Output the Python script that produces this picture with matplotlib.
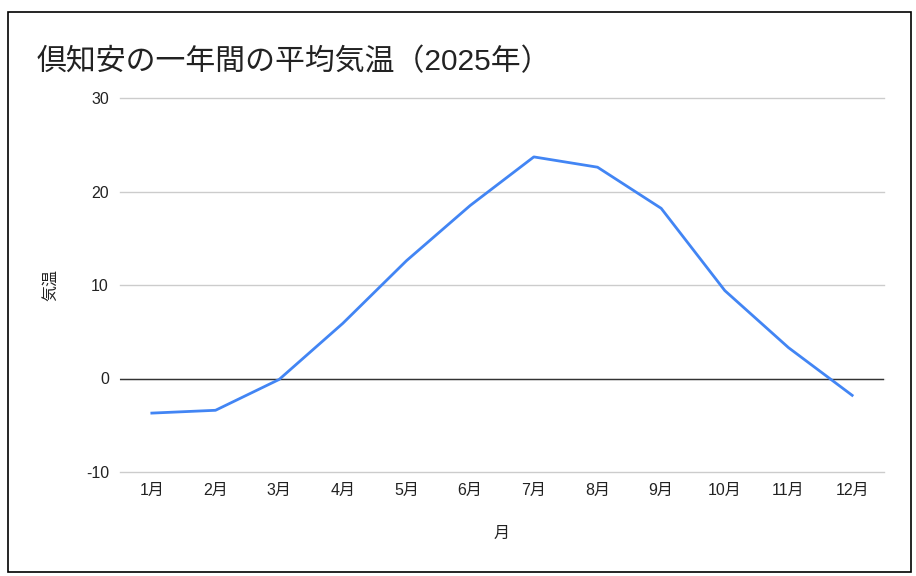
import matplotlib
matplotlib.use("Agg")
import matplotlib.pyplot as plt
from matplotlib.patches import Rectangle

plt.rcParams['font.family'] = ['Liberation Sans', 'Noto Sans CJK JP', 'DejaVu Sans']

# --- dados ---
months = ['1月', '2月', '3月', '4月', '5月', '6月', '7月', '8月', '9月', '10月', '11月', '12月']
temps = [-3.7, -3.4, -0.1, 5.9, 12.6, 18.5, 23.7, 22.6, 18.2, 9.4, 3.3, -1.8]
yticks = [-10, 0, 10, 20, 30]

fig = plt.figure(figsize=(9.16, 5.76), dpi=100)
ax = fig.add_axes([120 / 916, 1 - 472 / 576, 764 / 916, 374 / 576])

x = list(range(len(months)))
ax.plot(x, temps, color='#4285F4', linewidth=2.0, solid_joinstyle='round', zorder=3)

ax.set_xlim(-0.5, len(months) - 0.5)
ax.set_ylim(-10, 30)
ax.set_yticks(yticks)
ax.set_yticklabels([str(v) for v in yticks])
ax.set_xticks(x)
ax.set_xticklabels(months)

for v in yticks:
    ax.axhline(v, color='#cccccc', linewidth=1.0, zorder=1, clip_on=False)
ax.axhline(0, color='#333333', linewidth=1.0, zorder=2)

for s in ax.spines.values():
    s.set_visible(False)
ax.tick_params(length=0, labelsize=11.5, colors='#222222')
ax.tick_params(axis='y', pad=8)
ax.tick_params(axis='x', pad=8)

ax.set_xlabel('月', fontsize=11.5, labelpad=20, color='#222222')
ax.set_ylabel('気温', fontsize=11.5, labelpad=20, color='#222222')

fig.text(37 / 916, 1 - 70 / 576, '倶知安の一年間の平均気温（2025年）', fontsize=21.5,
         color='#222222', ha='left', va='baseline')

# borda da figura
fig.patches.append(Rectangle((8 / 916, 1 - 572 / 576), 903 / 916, 560 / 576,
                             transform=fig.transFigure, fill=False,
                             edgecolor='black', linewidth=1.2))

fig.savefig('out.png', dpi=100)
